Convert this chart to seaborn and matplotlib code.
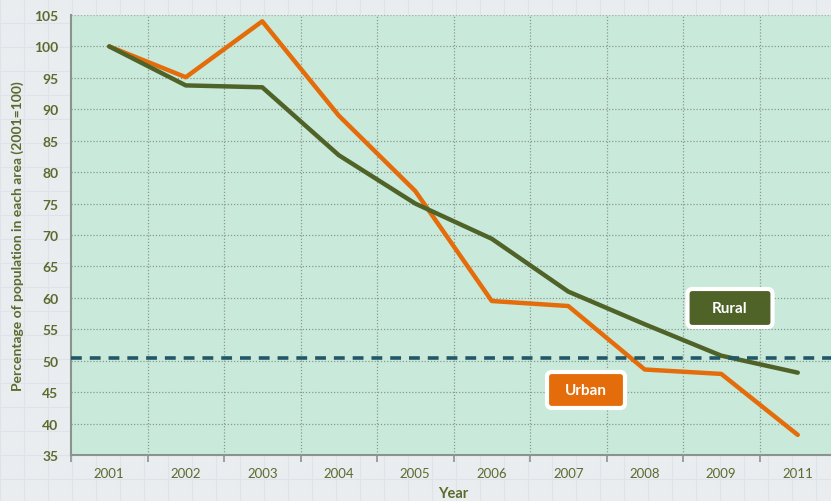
import matplotlib
matplotlib.use("Agg")
import matplotlib.pyplot as plt
import seaborn as sns
import pandas as pd
from matplotlib.patches import FancyBboxPatch

years = ["2001", "2002", "2003", "2004", "2005", "2006", "2007", "2008", "2009", "2011"]
urban = [100, 95.1, 104, 89, 77, 59.5, 58.7, 48.6, 47.9, 38.2]
rural = [100, 93.8, 93.5, 82.7, 75, 69.4, 61, 55.8, 50.8, 48.1]
threshold = 50.4
y_ticks = list(range(35, 106, 5))

df = pd.DataFrame({
    "Year": years * 2,
    "Value": urban + rural,
    "Area": ["Urban"] * len(years) + ["Rural"] * len(years),
})

sns.set_theme(style="white")
plt.rcParams["font.family"] = ["Lato", "DejaVu Sans"]

olive = "#5b6b2e"
c_urban = "#e46c0a"
c_rural = "#4f6228"

fig = plt.figure(figsize=(8.31, 5.02), dpi=100)
fig.patch.set_facecolor("#e9edf0")

# faint background grid on figure
bg = fig.add_axes([0, 0, 1, 1], zorder=-10)
bg.set_xlim(0, 831)
bg.set_ylim(502, 0)
for x in range(0, 831, 24):
    bg.axvline(x, color="#dde3e8", lw=0.8)
for y in range(0, 502, 24):
    bg.axhline(y, color="#dde3e8", lw=0.8)
bg.set_facecolor("#e9edf0")
bg.axis("off")

ax = fig.add_axes([71 / 831, 1 - 456 / 502, 765 / 831, 440 / 502])
ax.set_facecolor("#c9eada")

sns.lineplot(data=df, x="Year", y="Value", hue="Area",
             palette={"Urban": c_urban, "Rural": c_rural},
             hue_order=["Urban", "Rural"], linewidth=3.2, ax=ax,
             legend=False, sort=False)

ax.axhline(threshold, color="#215868", lw=2.6, ls=(0, (3, 2.2)), zorder=5)

ax.set_xlim(-0.5, len(years) - 0.5)
ax.set_ylim(35, 105)
ax.set_yticks(y_ticks)
ax.set_yticklabels([str(v) for v in y_ticks])
ax.set_xticks(range(len(years)))
ax.set_xticklabels(years)
ax.set_xticks([i + 0.5 for i in range(-1, len(years))], minor=True)

for y in y_ticks[1:-1]:
    ax.axhline(y, color="#8a9a92", lw=0.9, ls=(0, (1, 1.5)), zorder=1)
for i in range(len(years)):
    ax.axvline(i + 0.5, color="#8a9a92", lw=0.9, ls=(0, (1, 1.5)), zorder=1)
ax.axhline(105, color="#a5b2aa", lw=0.9, ls=(0, (1, 1.5)), zorder=1)

for s in ["top", "right"]:
    ax.spines[s].set_visible(False)
for s in ["left", "bottom"]:
    ax.spines[s].set_color("#8a9390")
    ax.spines[s].set_linewidth(1.5)

ax.tick_params(axis="x", which="major", length=0, pad=9, labelsize=9.5, labelcolor=olive)
ax.tick_params(axis="x", which="minor", length=5, color="#8a9390", width=1.2, direction="out", bottom=True)
ax.tick_params(axis="y", which="major", length=0, pad=9, labelsize=10, labelcolor=olive)
for lab in ax.get_yticklabels():
    lab.set_fontweight("bold")

ax.set_xlabel("Year", fontsize=10.5, fontweight="bold", color=olive)
ax.xaxis.label.set_va("center")
ax.xaxis.set_label_coords(0.5, -(494 - 456) / 440)
ax.set_ylabel("Percentage of population in each area (2001=100)", fontsize=10,
              fontweight="bold", color=olive)
ax.yaxis.set_label_coords(-0.062, 0.5)


def to_disp(px, py):
    return px * fig.dpi / 100, (502 - py) * fig.dpi / 100


def label_box(cx, cy, w, h, text, color):
    dx, dy = to_disp(cx, cy)
    box = FancyBboxPatch((dx - w / 2, dy - h / 2), w, h,
                         boxstyle="round,pad=0,rounding_size=5",
                         transform=None, facecolor=color, edgecolor="white",
                         linewidth=3, zorder=10)
    fig.patches.append(box)
    fig.text(cx / 831, 1 - cy / 502, text, ha="center", va="center",
             color="white", fontsize=11, fontweight="bold", zorder=11)


label_box(730, 309, 85, 38, "Rural", c_rural)
label_box(586, 391, 78, 36, "Urban", c_urban)

fig.savefig("out.png", dpi=100, facecolor=fig.get_facecolor())
